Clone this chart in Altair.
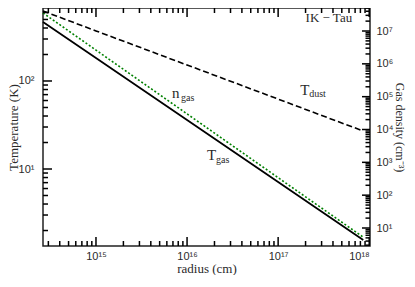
import altair as alt
import pandas as pd

# ---------------- data ----------------
radius = [2.62e14, 1e15, 1e16, 1e17, 8.6e17]
t_dust = [624, 371, 152, 62.3, 27.0]
t_gas = [468, 182, 36.0, 7.10, 1.56]
n_gas = [3.54e7, 2.62e6, 2.99e4, 341, 5.25]

# annotation labels (main letter + subscript)
ann_main = ["n", "T", "T"]
ann_main_x = [6.84e15, 1.66e16, 1.75e17]
ann_main_y = [73.1, 14.4, 79.0]
ann_sub = ["gas", "gas", "dust"]
ann_sub_x = [8.59e15, 2.08e16, 2.19e17]
ann_sub_y = [64.1, 12.6, 71.1]
title_text = ["IK − Tau"]
title_x = [6.5e17]
title_y = [520]

# axes
x_domain = [2.62e14, 1.02e18]
t_domain = [1.334, 675]
n_domain = [2.83, 5.02e7]
x_major = [1e15, 1e16, 1e17, 1e18]
x_minor = [3e14, 4e14, 5e14, 6e14, 7e14, 8e14, 9e14,
           2e15, 3e15, 4e15, 5e15, 6e15, 7e15, 8e15, 9e15,
           2e16, 3e16, 4e16, 5e16, 6e16, 7e16, 8e16, 9e16,
           2e17, 3e17, 4e17, 5e17, 6e17, 7e17, 8e17, 9e17]
t_major = [1e1, 1e2]
t_minor = [2, 3, 4, 5, 6, 7, 8, 9, 20, 30, 40, 50, 60, 70, 80, 90,
           200, 300, 400, 500, 600]
n_major = [1e1, 1e2, 1e3, 1e4, 1e5, 1e6, 1e7]
n_minor = [3, 4, 5, 6, 7, 8, 9,
           20, 30, 40, 50, 60, 70, 80, 90,
           200, 300, 400, 500, 600, 700, 800, 900,
           2e3, 3e3, 4e3, 5e3, 6e3, 7e3, 8e3, 9e3,
           2e4, 3e4, 4e4, 5e4, 6e4, 7e4, 8e4, 9e4,
           2e5, 3e5, 4e5, 5e5, 6e5, 7e5, 8e5, 9e5,
           2e6, 3e6, 4e6, 5e6, 6e6, 7e6, 8e6, 9e6,
           2e7, 3e7, 4e7, 5e7]

# ---------------- helpers ----------------
SUP = str.maketrans("0123456789-", "⁰¹²³⁴⁵⁶⁷⁸⁹⁻")


def label_expr(values):
    parts = []
    for v in values:
        e = len(str(int(round(v)))) - 1
        parts.append((v * 1.5, "10" + str(e).translate(SUP)))
    expr = "''"
    for thr, lab in reversed(parts):
        expr = f"datum.value < {thr:g} ? '{lab}' : ({expr})"
    return expr


SERIF = "Liberation Serif"
SANS = "Liberation Sans"
TXT = "#2a2a2a"
TICK = "black"
W, H = 327, 238
MAJ, MIN = 9, 5

df = pd.DataFrame({"r": radius, "t_dust": t_dust, "t_gas": t_gas, "n_gas": n_gas})
ann = pd.DataFrame({"main": ann_main, "mx": ann_main_x, "my": ann_main_y,
                    "sub": ann_sub, "sx": ann_sub_x, "sy": ann_sub_y})
tit = pd.DataFrame({"txt": title_text, "x": title_x, "y": title_y})

XS = alt.Scale(type="log", domain=x_domain, nice=False)
TS = alt.Scale(type="log", domain=t_domain, nice=False)
NS = alt.Scale(type="log", domain=n_domain, nice=False)

base = alt.Chart(df)

# labelled axes (ticks drawn separately, pointing inward)
x_lab_axis = alt.Axis(orient="bottom", values=x_major, labelExpr=label_expr(x_major),
                      ticks=False, domain=False, grid=False, labelFont=SANS,
                      labelFontSize=11, labelColor=TXT, labelPadding=4,
                      title="radius (cm)", titleFont=SERIF, titleFontSize=13,
                      titleFontWeight="normal", titleColor=TXT, titlePadding=1)
t_lab_axis = alt.Axis(orient="left", values=t_major, labelExpr=label_expr(t_major),
                      ticks=False, domain=False, grid=False, labelFont=SANS,
                      labelFontSize=11, labelColor=TXT, labelPadding=9,
                      title="Temperature (K)", titleFont=SERIF, titleFontSize=13,
                      titleFontWeight="normal", titleColor=TXT,
                      titlePadding={"expr": "-2"})
n_lab_axis = alt.Axis(orient="right", values=n_major, labelExpr=label_expr(n_major),
                      ticks=False, domain=False, grid=False, labelFont=SANS,
                      labelFontSize=11, labelColor=TXT, labelPadding=6,
                      title="Gas density (cm⁻³)", titleFont=SERIF, titleFontSize=12,
                      titleFontWeight="normal", titleColor=TXT, titlePadding=0)

dust = base.mark_line(color="black", strokeDash=[6, 3], strokeWidth=1.6).encode(
    x=alt.X("r:Q", scale=XS, axis=x_lab_axis),
    y=alt.Y("t_dust:Q", scale=TS, axis=t_lab_axis))
gas = base.mark_line(color="black", strokeWidth=1.8).encode(
    x=alt.X("r:Q", scale=XS, axis=None),
    y=alt.Y("t_gas:Q", scale=TS, axis=None))
dens = base.mark_line(color="#008000", strokeDash=[2, 2], strokeWidth=1.6).encode(
    x=alt.X("r:Q", scale=XS, axis=None),
    y=alt.Y("n_gas:Q", scale=NS, axis=n_lab_axis))


# inward tick marks, placed through the scales
def xticks(values, length, at_top):
    d = alt.Chart(pd.DataFrame({"v": values}))
    y0, y1 = (0, length) if at_top else (H, H - length)
    return d.mark_rule(color=TICK, strokeWidth=1.5).encode(
        x=alt.X("v:Q", scale=XS, axis=None),
        y=alt.value(y0), y2=alt.value(y1))


def yticks(values, scale, length, at_right):
    d = alt.Chart(pd.DataFrame({"v": values}))
    x0, x1 = (W, W - length) if at_right else (0, length)
    return d.mark_rule(color=TICK, strokeWidth=1.5).encode(
        y=alt.Y("v:Q", scale=scale, axis=None),
        x=alt.value(x0), x2=alt.value(x1))


ticks = [
    xticks(x_major, MAJ, False), xticks(x_minor, MIN, False),
    xticks(x_major, MAJ, True), xticks(x_minor, MIN, True),
    yticks(t_major, TS, MAJ, False), yticks(t_minor, TS, MIN, False),
    yticks(n_major, NS, 8, True), yticks(n_minor, NS, 4.5, True),
]

# annotations
main_txt = alt.Chart(ann).mark_text(align="left", baseline="middle", font=SERIF,
                                    fontSize=15, color=TXT).encode(
    x=alt.X("mx:Q", scale=XS, axis=None),
    y=alt.Y("my:Q", scale=TS, axis=None), text="main:N")
sub_txt = alt.Chart(ann).mark_text(align="left", baseline="middle", font=SERIF,
                                   fontSize=10, color=TXT).encode(
    x=alt.X("sx:Q", scale=XS, axis=None),
    y=alt.Y("sy:Q", scale=TS, axis=None), text="sub:N")
tit_txt = alt.Chart(tit).mark_text(align="right", baseline="middle", font=SERIF,
                                   fontSize=13, color=TXT).encode(
    x=alt.X("x:Q", scale=XS, axis=None),
    y=alt.Y("y:Q", scale=TS, axis=None), text="txt:N")

chart = alt.layer(
    dust, gas, dens, main_txt, sub_txt, tit_txt, *ticks
).resolve_scale(
    x="independent", y="independent"
).properties(
    width=W, height=H,
    autosize=alt.AutoSizeParams(type="none"),
    padding={"left": 35, "top": 0, "right": 37, "bottom": 29},
).configure_view(
    stroke="#222222", strokeWidth=1.5
)

chart.save("out.html", embed_options={"renderer": "svg", "actions": False})
